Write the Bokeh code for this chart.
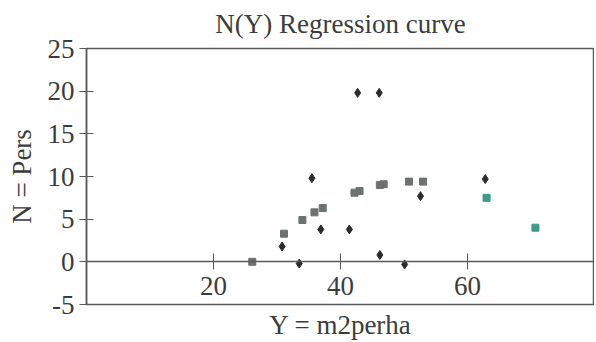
from bokeh.plotting import figure
from bokeh.models import FixedTicker, Title, Range1d
from bokeh.embed import file_html
from bokeh.resources import INLINE

# Observed points (diamonds)
obs_x = [30.8, 33.5, 35.5, 36.9, 41.4, 42.7, 46.1, 46.2, 50.1, 52.6, 62.8]
obs_y = [1.8, -0.2, 9.8, 3.8, 3.8, 19.8, 19.8, 0.8, -0.3, 7.7, 9.7]

# Regression curve points (gray squares)
reg_x = [26.1, 31.1, 34.0, 35.9, 37.2, 42.2, 43.0, 46.2, 46.8, 50.8, 53.0]
reg_y = [0.0, 3.3, 4.9, 5.8, 6.3, 8.1, 8.3, 9.0, 9.1, 9.4, 9.4]

# Extrapolated points (teal squares)
ext_x = [63.0, 70.7]
ext_y = [7.5, 4.0]

x_ticks = [20, 40, 60]
y_ticks = [-5, 0, 5, 10, 15, 20, 25]

FONT = "Liberation Serif"
TXT = "#3c3c3c"
LINE = "#5a5a5a"
FS = "27px"

p = figure(width=594, height=342, output_backend="svg", toolbar_location=None,
           x_range=Range1d(0, 80), y_range=Range1d(-5, 25),
           min_border_left=86, min_border_right=0, min_border_top=48, min_border_bottom=38)

p.title.text = "N(Y) Regression curve"
p.title.align = "center"
p.title.text_font = FONT
p.title.text_font_size = FS
p.title.text_font_style = "normal"
p.title.text_color = TXT

# small spacer between title and frame
spacer = Title(text=" ", text_font_size="3px", standoff=0)
p.add_layout(spacer, "above")

p.grid.visible = False
p.background_fill_color = "white"
p.border_fill_color = "white"
p.outline_line_color = LINE
p.outline_line_width = 1.5
p.outline_line_alpha = 1.0

# x axis drawn through y = 0
xa = p.xaxis[0]
xa.fixed_location = 0
xa.ticker = FixedTicker(ticks=x_ticks)
xa.minor_tick_line_color = None
xa.major_tick_in = 8
xa.major_tick_out = 8
xa.major_tick_line_color = LINE
xa.axis_line_color = LINE
xa.axis_line_width = 1.3
xa.major_label_standoff = 7
xa.major_label_text_font = FONT
xa.major_label_text_font_size = FS
xa.major_label_text_color = TXT

ya = p.yaxis[0]
ya.ticker = FixedTicker(ticks=y_ticks)
ya.major_label_overrides = {-5: "-5"}
ya.minor_tick_line_color = None
ya.major_tick_in = 7
ya.major_tick_out = 7
ya.major_tick_line_color = LINE
ya.axis_line_color = LINE
ya.axis_line_width = 1.5
ya.major_label_standoff = 5
ya.major_label_text_font = FONT
ya.major_label_text_font_size = FS
ya.major_label_text_color = TXT
ya.axis_label = "N = Pers"
ya.axis_label_text_font = FONT
ya.axis_label_text_font_size = FS
ya.axis_label_text_font_style = "normal"
ya.axis_label_text_color = TXT
ya.axis_label_standoff = 8

xl = Title(text="Y = m2perha", align="center", text_font=FONT, text_font_size=FS,
           text_font_style="normal", text_color=TXT, standoff=6)
p.add_layout(xl, "below")

p.scatter(reg_x, reg_y, marker="square", size=7, color="#6c7272")
p.scatter(ext_x, ext_y, marker="square", size=7, color="#3e9c86")
p.scatter(obs_x, obs_y, marker="diamond", size=9, color="#2b2b2b")

open("out.html", "w").write(file_html(p, INLINE))
